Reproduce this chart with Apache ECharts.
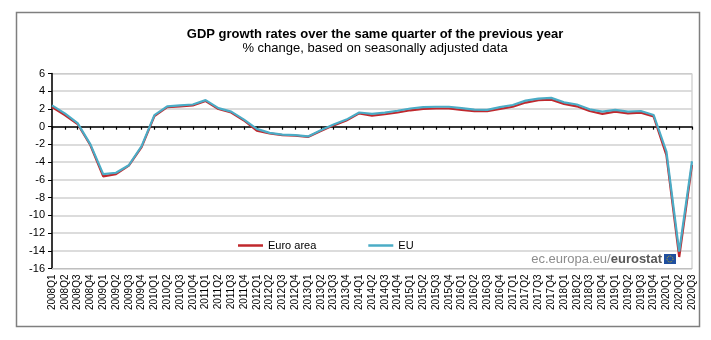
<!DOCTYPE html>
<html>
<head>
<meta charset="utf-8">
<script src="https://cdn.jsdelivr.net/npm/echarts@6/dist/echarts.min.js"></script>
<style>
html,body{margin:0;padding:0;background:#fff;}
#chart{width:711px;height:340px;}
</style>
</head>
<body>
<div id="chart"></div>
<script>
const categories = [
  "2008Q1","2008Q2","2008Q3","2008Q4",
  "2009Q1","2009Q2","2009Q3","2009Q4",
  "2010Q1","2010Q2","2010Q3","2010Q4",
  "2011Q1","2011Q2","2011Q3","2011Q4",
  "2012Q1","2012Q2","2012Q3","2012Q4",
  "2013Q1","2013Q2","2013Q3","2013Q4",
  "2014Q1","2014Q2","2014Q3","2014Q4",
  "2015Q1","2015Q2","2015Q3","2015Q4",
  "2016Q1","2016Q2","2016Q3","2016Q4",
  "2017Q1","2017Q2","2017Q3","2017Q4",
  "2018Q1","2018Q2","2018Q3","2018Q4",
  "2019Q1","2019Q2","2019Q3","2019Q4",
  "2020Q1","2020Q2","2020Q3"
];
const euroArea = [
  2.2, 1.3, 0.3, -2.1,
  -5.6, -5.35, -4.4, -2.3,
  1.2, 2.2, 2.3, 2.4,
  2.9, 2.0, 1.6, 0.7,
  -0.45, -0.75, -0.95, -1.0,
  -1.15, -0.5, 0.15, 0.7,
  1.5, 1.25, 1.4, 1.6,
  1.85, 2.0, 2.05, 2.05,
  1.9, 1.75, 1.75, 2.0,
  2.25, 2.72, 2.98, 3.05,
  2.57, 2.3, 1.77, 1.45,
  1.7, 1.5, 1.58, 1.15,
  -3.2, -14.7, -4.3
];
const eu = [
  2.4, 1.5, 0.4, -2.0,
  -5.35, -5.2, -4.35, -2.2,
  1.3, 2.3, 2.4, 2.5,
  3.0, 2.1, 1.7, 0.8,
  -0.25, -0.7, -0.9, -0.95,
  -1.1, -0.4, 0.25, 0.8,
  1.6, 1.45, 1.58, 1.8,
  2.05, 2.2, 2.25, 2.25,
  2.1, 1.92, 1.9, 2.2,
  2.45, 2.94, 3.17, 3.25,
  2.75, 2.5, 1.96, 1.7,
  1.9, 1.7, 1.77, 1.32,
  -2.8, -14.1, -3.9
];
const yTicks = { min: -16, max: 6, interval: 2 };
const titleText = "GDP growth rates over the same quarter of the previous year";
const subtitleText = "% change, based on seasonally adjusted data";

const chart = echarts.init(document.getElementById('chart'), null, {renderer: 'canvas'});
const FONT = "'Liberation Sans', Arial, sans-serif";
chart.setOption({
  animation: false,
  backgroundColor: '#fff',
  textStyle: { fontFamily: FONT },
  title: {
    text: titleText,
    subtext: subtitleText,
    left: 370,
    textAlign: 'center',
    top: 23,
    itemGap: 1,
    textStyle: { fontSize: 13, fontWeight: 'bold', color: '#000', fontFamily: FONT },
    subtextStyle: { fontSize: 13, color: '#000', fontFamily: FONT }
  },
  legend: {
    data: ['Euro area', 'EU'],
    left: 233,
    top: 235,
    icon: 'rect',
    itemWidth: 25,
    itemHeight: 2.5,
    itemGap: 52,
    textStyle: { fontSize: 11, color: '#000', fontFamily: FONT }
  },
  grid: {
    left: 52, right: 19, top: 73.5, bottom: 71.5,
    show: true, borderColor: '#bfbfbf', borderWidth: 1, backgroundColor: 'transparent'
  },
  xAxis: [
    {
      type: 'category',
      data: categories,
      boundaryGap: false,
      position: 'bottom',
      axisLine: { show: true, onZero: false, lineStyle: { color: '#bfbfbf', width: 1 } },
      axisTick: { show: false },
      splitLine: { show: false },
      axisLabel: {
        interval: 0, rotate: 90, margin: 6, fontSize: 10, color: '#000',
        fontFamily: "'Liberation Sans Narrow', 'Arial Narrow', 'Liberation Sans', sans-serif"
      }
    },
    {
      type: 'category',
      data: categories,
      boundaryGap: false,
      position: 'bottom',
      axisLine: { show: true, onZero: true, lineStyle: { color: '#000', width: 1.5 } },
      axisTick: { show: true, interval: 0, length: 3, lineStyle: { color: '#000', width: 1.2 } },
      axisLabel: { show: false },
      splitLine: { show: false }
    }
  ],
  yAxis: {
    type: 'value',
    min: yTicks.min, max: yTicks.max, interval: yTicks.interval,
    axisLine: { show: true, lineStyle: { color: '#000', width: 1.5 } },
    axisTick: { show: true, length: 4, lineStyle: { color: '#000' } },
    axisLabel: { fontSize: 11, color: '#000', margin: 7, fontFamily: FONT },
    splitLine: { show: true, lineStyle: { color: '#d0d0d0', width: 1.5 } }
  },
  series: [
    {
      name: 'Euro area', type: 'line', data: euroArea, xAxisIndex: 0,
      symbol: 'none', smooth: false,
      lineStyle: { color: '#c0282d', width: 2.2 },
      itemStyle: { color: '#c0282d' }
    },
    {
      name: 'EU', type: 'line', data: eu, xAxisIndex: 0,
      symbol: 'none', smooth: false,
      lineStyle: { color: '#4bacc6', width: 2.2 },
      itemStyle: { color: '#4bacc6' }
    }
  ],
  graphic: [
    {
      type: 'rect', silent: true, z: 100,
      shape: { x: 16.5, y: 12.5, width: 683, height: 314 },
      style: { fill: 'none', stroke: '#7f7f7f', lineWidth: 1.5 }
    },
    {
      type: 'text', z: 100, x: 662, y: 259,
      style: {
        text: '{a|ec.europa.eu/}{b|eurostat}',
        align: 'right', verticalAlign: 'middle',
        rich: {
          a: { fontSize: 13, fill: '#8c8c8c', fontFamily: FONT },
          b: { fontSize: 13, fill: '#595959', fontWeight: 'bold', fontFamily: FONT }
        }
      }
    },
    {
      type: 'rect', z: 100,
      shape: { x: 664, y: 254, width: 12, height: 10 },
      style: { fill: '#1f4f9f' }
    },
    {
      type: 'circle', z: 101,
      shape: { cx: 670, cy: 259, r: 3 },
      style: { fill: 'none', stroke: '#e8c800', lineWidth: 0.8, lineDash: [1, 1] }
    }
  ]
});
</script>
</body>
</html>
